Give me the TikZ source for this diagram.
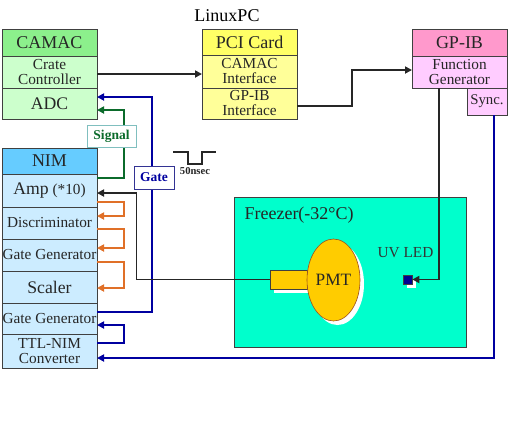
\documentclass[tikz,border=0pt]{standalone}
\usepackage{fontspec}
\setmainfont{Liberation Serif}
\usetikzlibrary{positioning,arrows.meta,shapes.geometric,shadows}
\definecolor{boxline}{HTML}{404040}
\definecolor{camachd}{HTML}{8CF08C}
\definecolor{camacbd}{HTML}{CCFFCC}
\definecolor{nimhd}{HTML}{66CCFF}
\definecolor{nimbd}{HTML}{CCECFF}
\definecolor{pcihd}{HTML}{FFFF66}
\definecolor{pcibd}{HTML}{FFFF99}
\definecolor{gpibhd}{HTML}{FF99CC}
\definecolor{gpibbd}{HTML}{FFCCFF}
\definecolor{freezer}{HTML}{00FFCC}
\definecolor{pmtcol}{HTML}{FFCC00}
\definecolor{sigcol}{HTML}{0B6B2B}
\definecolor{gatecol}{HTML}{0000A0}
\definecolor{orgcol}{HTML}{E07028}
\tikzset{
  unit/.style={draw=boxline,line width=0.9pt,minimum width=95pt,inner sep=0pt,outer sep=0pt,text=black!85},
  head/.style={unit,minimum height=27pt,font=\fontsize{18}{18}\selectfont},
  slot/.style={unit,font=\fontsize{15.3}{15}\selectfont},
  two/.style={align=center},
  big/.style={font=\fontsize{17.7}{18}\selectfont},
  wire/.style={line width=1.8pt,-{Triangle[length=7pt,width=7pt]}},
  wshadow/.style={general shadow={fill=white,shadow xshift=4pt,shadow yshift=-4pt}},
  tag/.style={fill=white,line width=0.9pt,inner sep=0pt,font=\bfseries\fontsize{13.5}{14}\selectfont}
}
\begin{document}
\begin{tikzpicture}[x=1pt,y=-1pt]
\useasboundingbox (0,0) rectangle (525,424);
\node[head,fill=camachd,anchor=north west] (camac) at (2,29) {CAMAC};
\node[slot,two,fill=camacbd,minimum height=32pt,below=0pt of camac] (crate) {Crate\\Controller};
\node[slot,big,fill=camacbd,minimum height=31pt,below=0pt of crate] (adc) {ADC};
\node[head,fill=nimhd,minimum height=26pt,anchor=north west] (nim) at (2,148) {NIM};
\node[slot,fill=nimbd,minimum height=33pt,below=0pt of nim] (amp) {{\fontsize{17.7}{18}\selectfont Amp} (*10)};
\node[slot,fill=nimbd,minimum height=32pt,below=0pt of amp] (disc) {Discriminator};
\node[slot,fill=nimbd,minimum height=32pt,below=0pt of disc] (gg1) {Gate Generator};
\node[slot,big,fill=nimbd,minimum height=32pt,below=0pt of gg1] (scaler) {Scaler};
\node[slot,fill=nimbd,minimum height=31pt,below=0pt of scaler] (gg2) {Gate Generator};
\node[slot,two,fill=nimbd,minimum height=34pt,below=0pt of gg2] (ttl) {TTL-NIM\\Converter};
\node[font=\fontsize{18}{18}\selectfont] (pc) at (227,16) {LinuxPC};
\node[head,fill=pcihd,minimum height=26pt,anchor=north west] (pci) at (202,29) {PCI Card};
\node[slot,two,fill=pcibd,minimum height=33pt,below=0pt of pci] (camacif) {CAMAC\\Interface};
\node[slot,two,fill=pcibd,minimum height=31pt,below=0pt of camacif] (gpibif) {GP-IB\\Interface};
\node[head,fill=gpibhd,anchor=north west] (gpib) at (412,29) {GP-IB};
\node[slot,two,fill=gpibbd,minimum height=32pt,below=0pt of gpib] (fg) {Function\\Generator};
\node[slot,fill=gpibbd,minimum width=40pt,minimum height=27pt,anchor=north east,font=\fontsize{14.8}{15}\selectfont] (sync) at (fg.south east) {Sync.};
\node[draw=boxline,line width=0.9pt,fill=freezer,minimum width=232pt,minimum height=150pt,anchor=north west] (frz) at (234,197) {};
\node[anchor=base west,font=\fontsize{18}{18}\selectfont,text=black!85] (frzlbl) at (241,219) {Freezer(-32°C)};
\node[draw=boxline,line width=0.9pt,fill=pmtcol,wshadow,minimum width=37pt,minimum height=19pt,inner sep=0pt] (pmtbase) at (288.5,279.5) {};
\node[ellipse,draw=orgcol!70!black,line width=0.6pt,fill=pmtcol,wshadow,minimum width=53pt,minimum height=82pt,inner sep=0pt,font=\fontsize{17.3}{18}\selectfont,text=black!85] (pmt) at (333.5,280) {PMT};
\node[anchor=base,font=\fontsize{15.3}{15}\selectfont,text=black!80] (ledlbl) at (405.5,257) {UV LED};
\node[draw=boxline,line width=0.6pt,fill=gatecol!90!black,wshadow,minimum size=9pt,inner sep=0pt] (led) at (407.5,279.5) {};
\draw[wire,black!85] ([yshift=-2pt]crate.east) -- ([yshift=-2.5pt]camacif.west);
\draw[wire,black!85] ([yshift=-2.5pt]gpibif.east) -- ++(55,0) |- ([yshift=2pt]fg.west);
\draw[wire,black!85] ([xshift=-20.5pt]fg.south) |- (led.east);
\draw[wire,gatecol] ([xshift=7pt]sync.south) |- ([yshift=-7pt]ttl.east);
\draw[wire,gatecol] ([yshift=8pt]ttl.east) -- ++(27,0) |- ([yshift=-6.5pt]gg2.east);
\draw[wire,gatecol] ([yshift=6.5pt]gg2.east) -- ++(55,0) |- ([yshift=6.5pt]adc.east);
\draw[wire,sigcol] ([yshift=12.5pt]amp.east) -- ++(27,0) |- ([yshift=-6.5pt]adc.east);
\draw[wire,black!85] (pmtbase.west) -- ++(-133,0) |- ([yshift=-2.5pt]amp.east);
\draw[wire,orgcol] ([yshift=-11.5pt]amp.east) -- ++(27,0) |- ([yshift=7pt]disc.east);
\draw[wire,orgcol] ([yshift=-6pt]disc.east) -- ++(27,0) |- ([yshift=7pt]gg1.east);
\draw[wire,orgcol] ([yshift=-7pt]gg1.east) -- ++(27,0) |- ([yshift=-1pt]scaler.east);
\node[tag,draw=teal!50,text=sigcol,minimum width=49pt,minimum height=22pt] (sig) at (111.5,136) {Signal};
\node[tag,draw=gatecol!60!gray,text=gatecol,minimum width=40pt,minimum height=23pt] (gate) at (154,177.5) {Gate};
\draw[line width=1.6pt,black!85] (173,152) -- (188,152) -- (188,164) -- (202,164) -- (202,152) -- (216,152);
\node[font=\bfseries\fontsize{10.6}{11}\selectfont,text=black!85] (width) at (195,171.5) {50nsec};
\end{tikzpicture}
\end{document}
